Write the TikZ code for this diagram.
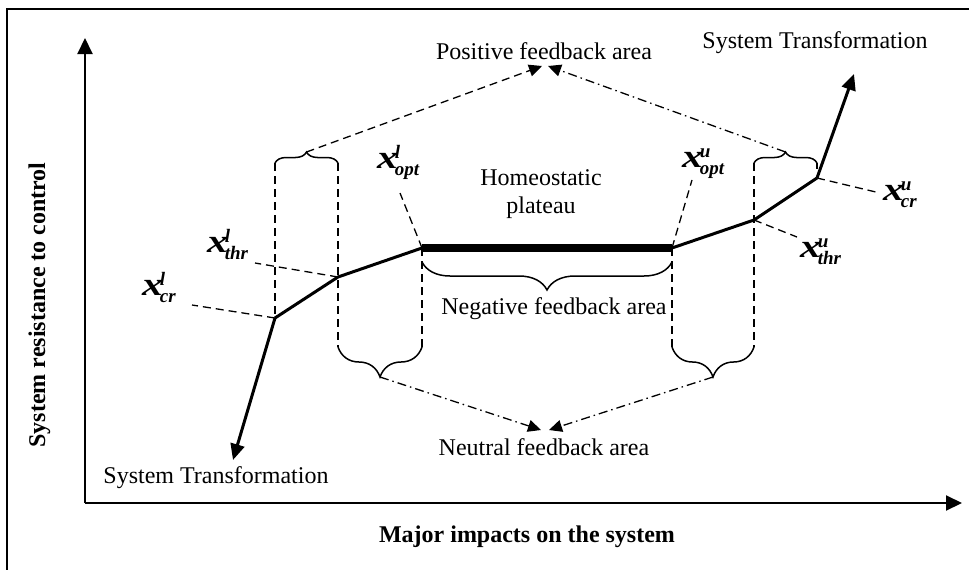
\documentclass[tikz,border=0pt]{standalone}
\usepackage{fontspec}
\setmainfont{Liberation Serif}
\usetikzlibrary{arrows.meta,decorations.pathreplacing}
\newcommand{\xlbl}[2]{\mbox{\fontsize{33}{33}\selectfont\bfseries\itshape \scalebox{1.25}[1]{x}\kern-3pt\rlap{\raisebox{10pt}{\fontsize{19}{19}\selectfont #2}}\raisebox{-7pt}{\fontsize{19}{19}\selectfont #1}}}
\tikzset{
  txt/.style={inner sep=0pt, anchor=base, font=\fontsize{24}{27}\selectfont},
  boldtxt/.style={txt, font=\fontsize{24}{27}\selectfont\bfseries},
  xlab/.style={inner sep=0pt, anchor=base west},
  axis/.style={line width=2pt, -{Triangle[length=16pt,width=15pt]}},
  curve/.style={line width=3pt, line join=miter},
  curvearrow/.style={line width=3pt, -{Triangle[length=16pt,width=14pt]}},
  plateau/.style={line width=8pt},
  dashln/.style={line width=1.3pt, dash pattern=on 8pt off 5pt},
  dashdot/.style={line width=1.3pt, dash pattern=on 9pt off 4pt on 1.5pt off 4pt},
  fbarrow/.style={-{Triangle[length=13pt,width=12pt]}},
  bracedown/.style={line width=1.5pt, decorate, decoration={brace, amplitude=#1}},
}
\begin{document}
\begin{tikzpicture}[x=1pt,y=-1pt]
\useasboundingbox (0,0) rectangle (969,570);
% frame (right and bottom edges lie outside)
\draw[line width=2pt] (7,585) -- (7,9) -- (985,9);
% axes
\coordinate (O) at (85,503);
\coordinate (ytip) at (85,38);
\coordinate (xtip) at (962,503);
\draw[axis] (O) -- (ytip);
\draw[axis] (O) -- (xtip);
\node[boldtxt, rotate=90] (ylab) at (45,305) {System resistance to control};
\node[boldtxt] (xlab) at (527,542) {Major impacts on the system};
% curve points
\coordinate (crl) at (275,318);
\coordinate (thrl) at (338,277);
\coordinate (optl) at (422,248);
\coordinate (optu) at (672,248);
\coordinate (thru) at (754,220);
\coordinate (cru) at (817,178);
\coordinate (lowtip) at (233,460);
\coordinate (uptip) at (854,74);
% dashed verticals
\coordinate (v1t) at (275,163);
\coordinate (v2t) at (338,163);
\coordinate (v2b) at (338,347);
\coordinate (v3b) at (422,347);
\coordinate (v4b) at (672,347);
\coordinate (v5t) at (754,163);
\coordinate (v5b) at (754,347);
\coordinate (v6t) at (817,163);
\draw[dashln] (v1t) -- (crl);
\draw[dashln] (v2t) -- (v2b);
\draw[dashln] (optl) -- (v3b);
\draw[dashln] (optu) -- (v4b);
\draw[dashln] (v5t) -- (v5b);
\draw[line width=1.5pt] (v6t) -- ++(0,6);
% braces
\draw[bracedown=11pt] (v1t) -- (v2t);
\draw[bracedown=11pt] (v5t) -- (v6t);
\draw[bracedown=30pt] (v3b) -- (v2b);
\draw[bracedown=30pt] (v5b) -- (v4b);
\draw[bracedown=28pt] (672,262) -- (422,262);
\coordinate (tlTip) at (306.5,152);
\coordinate (trTip) at (785.5,152);
\coordinate (blTip) at (380,377);
\coordinate (brTip) at (713,377);
% curve
\draw[curve] (crl) -- (thrl) -- (optl);
\draw[curve] (optu) -- (thru) -- (cru);
\draw[plateau] (optl) -- (optu);
\draw[curvearrow] (crl) -- (lowtip);
\draw[curvearrow] (cru) -- (uptip);
% feedback arrows
\coordinate (posL) at (542,66);
\coordinate (posR) at (548,66);
\coordinate (neuL) at (541,430);
\coordinate (neuR) at (549,430);
\draw[dashln, fbarrow] (tlTip) -- (posL);
\draw[dashdot, fbarrow] (trTip) -- (posR);
\draw[dashdot, fbarrow] (blTip) -- (neuL);
\draw[dashdot, fbarrow] (brTip) -- (neuR);
% texts
\node[txt] (pos) at (544,59) {Positive feedback area};
\node[txt] (neu) at (544,455) {Neutral feedback area};
\node[txt] (neg) at (554,314) {Negative feedback area};
\node[txt] (homeo) at (541,185) {Homeostatic};
\node[txt] (plat) at (541,213) {plateau};
\node[txt] (st1) at (815,48) {System Transformation};
\node[txt] (st2) at (216,483) {System Transformation};
% point labels
\node[xlab] (Lcrl) at (142,295) {\xlbl{cr}{l}};
\node[xlab] (Lthrl) at (207,252) {\xlbl{thr}{l}};
\node[xlab] (Loptl) at (377,168) {\xlbl{opt}{l}};
\node[xlab] (Loptu) at (682,167) {\xlbl{opt}{u}};
\node[xlab] (Lthru) at (800,257) {\xlbl{thr}{u}};
\node[xlab] (Lcru) at (883,200) {\xlbl{cr}{u}};
\coordinate (ecrl) at (192,305);
\coordinate (ethrl) at (255,263);
\coordinate (eoptl) at (400,193);
\coordinate (eoptu) at (692,180);
\coordinate (ethru) at (797,237);
\coordinate (ecru) at (880,193);
\draw[dashln] (crl) -- (ecrl);
\draw[dashln] (thrl) -- (ethrl);
\draw[dashln] (optl) -- (eoptl);
\draw[dashln] (optu) -- (eoptu);
\draw[dashln] (thru) -- (ethru);
\draw[dashln] (cru) -- (ecru);
\end{tikzpicture}
\end{document}
